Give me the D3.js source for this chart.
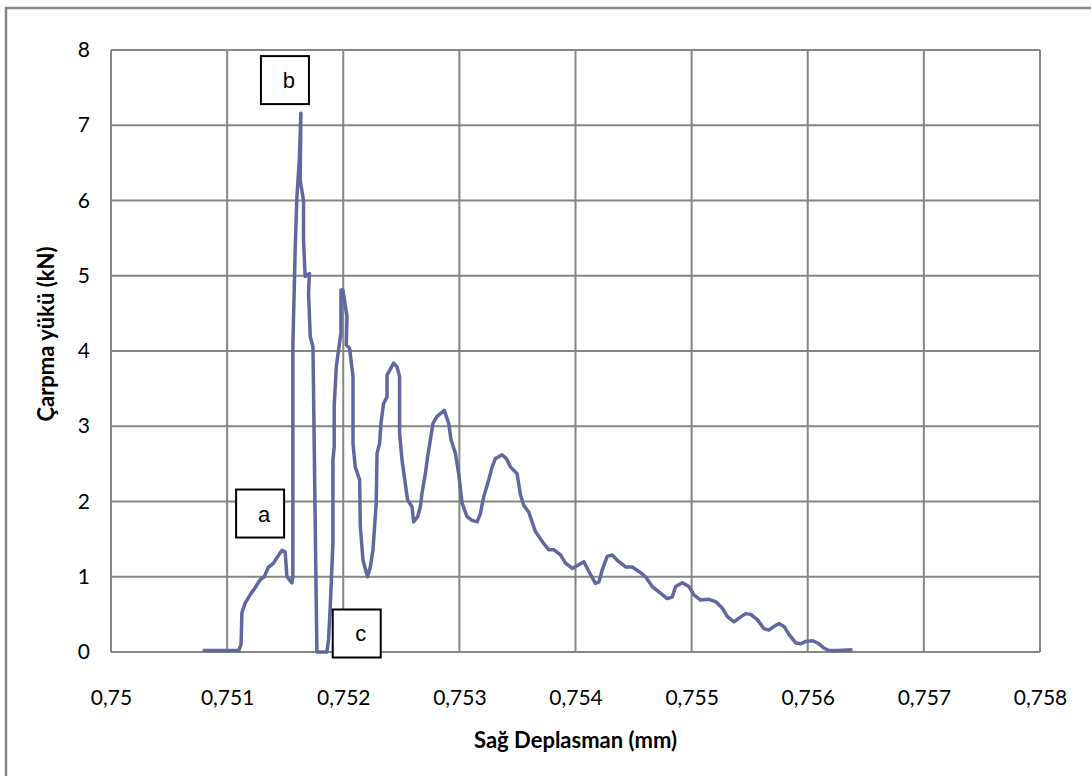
<!DOCTYPE html>
<html>
<head>
<meta charset="utf-8">
<script src="https://cdn.jsdelivr.net/npm/d3@7"></script>
<style>
  body { margin: 0; background: #fff; }
  svg { display: block; }
</style>
</head>
<body>
<div id="chart"></div>
<script>
// displacement (mm) and impact load (kN)
var displacement = [
  0.75079, 0.75110, 0.75112, 0.751127, 0.751155, 0.751198, 0.751240, 0.751284, 0.751320, 0.751353,
  0.751400, 0.751431, 0.751472, 0.751500, 0.751515, 0.751558, 0.751566, 0.751566, 0.751586, 0.751601,
  0.751623, 0.751635, 0.751629, 0.751658, 0.751658, 0.751672, 0.751709, 0.751701, 0.751716, 0.751739,
  0.751744, 0.751773, 0.751859, 0.751873, 0.751888, 0.751911, 0.751911, 0.751922, 0.751922, 0.751940,
  0.751959, 0.751980, 0.751980, 0.751997, 0.752032, 0.752026, 0.752054, 0.752084, 0.752084, 0.752103,
  0.752141, 0.752147, 0.752170, 0.752209, 0.752233, 0.752256, 0.752284, 0.752291, 0.752313, 0.752325,
  0.752347, 0.752377, 0.752377, 0.752434, 0.752463, 0.752485, 0.752485, 0.752506, 0.752526, 0.752554,
  0.752592, 0.752606, 0.752641, 0.752664, 0.752678, 0.752707, 0.752727, 0.752773, 0.752808, 0.752871,
  0.752908, 0.752928, 0.752966, 0.752994, 0.753023, 0.753066, 0.753109, 0.753153, 0.753181, 0.753209,
  0.753253, 0.753282, 0.753310, 0.753368, 0.753405, 0.753440, 0.753497, 0.753526, 0.753554, 0.753597,
  0.753655, 0.753727, 0.753770, 0.753813, 0.753871, 0.753914, 0.753972, 0.754028, 0.754072, 0.754115,
  0.754172, 0.754201, 0.754230, 0.754273, 0.754316, 0.754373, 0.754431, 0.754489, 0.754546, 0.754603,
  0.754661, 0.754718, 0.754790, 0.754833, 0.754862, 0.754920, 0.754977, 0.755019, 0.755078, 0.755149,
  0.755207, 0.755265, 0.755308, 0.755365, 0.755408, 0.755466, 0.755509, 0.755566, 0.755623, 0.755666,
  0.755709, 0.755753, 0.755796, 0.755839, 0.755897, 0.755940, 0.755983, 0.756041, 0.756084, 0.756141,
  0.756184, 0.756256, 0.756385
];
var load = [
  0.02, 0.02, 0.10, 0.52, 0.65, 0.76, 0.85, 0.96, 1.00, 1.12,
  1.18, 1.26, 1.35, 1.33, 1.00, 0.92, 1.00, 4.06, 5.34, 6.05,
  6.58, 7.16, 6.27, 6.00, 5.47, 4.99, 5.03, 4.77, 4.19, 4.06,
  3.48, 0.00, 0.00, 0.16, 0.60, 1.45, 2.55, 2.73, 3.26, 3.79,
  4.01, 4.24, 4.81, 4.81, 4.46, 4.08, 4.04, 3.66, 2.77, 2.46,
  2.29, 1.67, 1.22, 1.00, 1.13, 1.36, 1.98, 2.64, 2.77, 3.04,
  3.30, 3.39, 3.68, 3.84, 3.79, 3.66, 2.91, 2.55, 2.33, 2.02,
  1.93, 1.73, 1.80, 1.93, 2.11, 2.37, 2.60, 3.04, 3.13, 3.21,
  3.04, 2.82, 2.64, 2.37, 1.98, 1.80, 1.75, 1.73, 1.84, 2.06,
  2.29, 2.46, 2.57, 2.62, 2.57, 2.46, 2.37, 2.09, 1.95, 1.86,
  1.60, 1.44, 1.36, 1.36, 1.29, 1.18, 1.11, 1.16, 1.20, 1.07,
  0.91, 0.93, 1.09, 1.27, 1.29, 1.20, 1.13, 1.13, 1.07, 1.00,
  0.87, 0.80, 0.71, 0.73, 0.87, 0.92, 0.87, 0.76, 0.69, 0.70,
  0.67, 0.58, 0.47, 0.40, 0.45, 0.51, 0.50, 0.43, 0.31, 0.29,
  0.34, 0.38, 0.34, 0.23, 0.12, 0.11, 0.14, 0.15, 0.12, 0.05,
  0.02, 0.02, 0.03
];

var xTicks = [0.750, 0.751, 0.752, 0.753, 0.754, 0.755, 0.756, 0.757, 0.758];
var yTicks = [0, 1, 2, 3, 4, 5, 6, 7, 8];

// letter markers: a (first contact), b (max load), c (separation)
var markLetters = ["a", "b", "c"];
var markX = [0.751284, 0.751498, 0.752116];
var markY = [1.84, 7.60, 0.246];

var svgWidth = 1091;
var svgHeight = 776;

var margin = { top: 50, right: 51, bottom: 124, left: 111 };
var width = svgWidth - margin.left - margin.right;
var height = svgHeight - margin.top - margin.bottom;

var gridColor = "#868686";
var lineColor = "#63679f";

var svg = d3.select("#chart")
  .append("svg")
  .attr("width", svgWidth)
  .attr("height", svgHeight);

// outer chart frame (runs off the right and bottom edges)
svg.append("rect")
  .attr("x", 6)
  .attr("y", 8)
  .attr("width", 1200)
  .attr("height", 900)
  .attr("fill", "none")
  .attr("stroke", gridColor)
  .attr("stroke-width", 2.5);

var chartGroup = svg.append("g")
  .attr("transform", `translate(${margin.left}, ${margin.top})`);

var xScale = d3.scaleLinear().domain([0.750, 0.758]).range([0, width]);
var yScale = d3.scaleLinear().domain([0, 8]).range([height, 0]);

// gridlines
chartGroup.append("g")
  .selectAll("line")
  .data(xTicks)
  .enter()
  .append("line")
  .attr("x1", d => xScale(d))
  .attr("x2", d => xScale(d))
  .attr("y1", 0)
  .attr("y2", height)
  .attr("stroke", gridColor)
  .attr("stroke-width", 2);

chartGroup.append("g")
  .selectAll("line")
  .data(yTicks)
  .enter()
  .append("line")
  .attr("x1", 0)
  .attr("x2", width)
  .attr("y1", d => yScale(d))
  .attr("y2", d => yScale(d))
  .attr("stroke", gridColor)
  .attr("stroke-width", 2);

// axes, only the labels are kept
var bottomAxis = d3.axisBottom(xScale)
  .tickValues(xTicks)
  .tickSize(0)
  .tickPadding(38)
  .tickFormat(d => d3.format(".3~f")(d).replace(".", ","));

var leftAxis = d3.axisLeft(yScale)
  .tickValues(yTicks)
  .tickSize(0)
  .tickPadding(21)
  .tickFormat(d3.format("d"));

var xAxis = chartGroup.append("g")
  .attr("transform", `translate(0, ${height})`)
  .call(bottomAxis);

var yAxis = chartGroup.append("g")
  .call(leftAxis);

[xAxis, yAxis].forEach(function(ax) {
  ax.select(".domain").remove();
  ax.selectAll("text")
    .style("font-family", "Lato, 'Open Sans', sans-serif")
    .style("font-size", "21px")
    .attr("fill", "#000");
});

// the curve
var points = displacement.map((d, i) => [d, load[i]]);

var line = d3.line()
  .x(d => xScale(d[0]))
  .y(d => yScale(d[1]));

chartGroup.append("path")
  .datum(points)
  .attr("d", line)
  .attr("fill", "none")
  .attr("stroke", lineColor)
  .attr("stroke-width", 3.5)
  .attr("stroke-linejoin", "round");

// letter boxes
var boxSize = 48;
var marks = chartGroup.selectAll(".mark")
  .data(markLetters)
  .enter()
  .append("g")
  .attr("class", "mark")
  .attr("transform", (d, i) => `translate(${xScale(markX[i])}, ${yScale(markY[i])})`);

marks.append("rect")
  .attr("x", -boxSize / 2)
  .attr("y", -boxSize / 2)
  .attr("width", boxSize)
  .attr("height", boxSize)
  .attr("fill", "#fff")
  .attr("stroke", "#000")
  .attr("stroke-width", 2);

marks.append("text")
  .attr("x", 4)
  .attr("y", 8)
  .style("font-family", "'Liberation Sans', Arial, sans-serif")
  .style("font-size", "22px")
  .style("text-anchor", "middle")
  .text(d => d);

// axis titles
chartGroup.append("text")
  .attr("x", width / 2)
  .attr("y", height + 96)
  .style("font-family", "Lato, 'Open Sans', sans-serif")
  .style("font-size", "22px")
  .style("font-weight", 700)
  .style("text-anchor", "middle")
  .text("Sağ Deplasman (mm)");

chartGroup.append("text")
  .attr("transform", "rotate(-90)")
  .attr("x", -height / 2 + 17)
  .attr("y", -57)
  .style("font-family", "Lato, 'Open Sans', sans-serif")
  .style("font-size", "22px")
  .style("font-weight", 700)
  .style("text-anchor", "middle")
  .text("Çarpma yükü (kN)");
</script>
</body>
</html>
